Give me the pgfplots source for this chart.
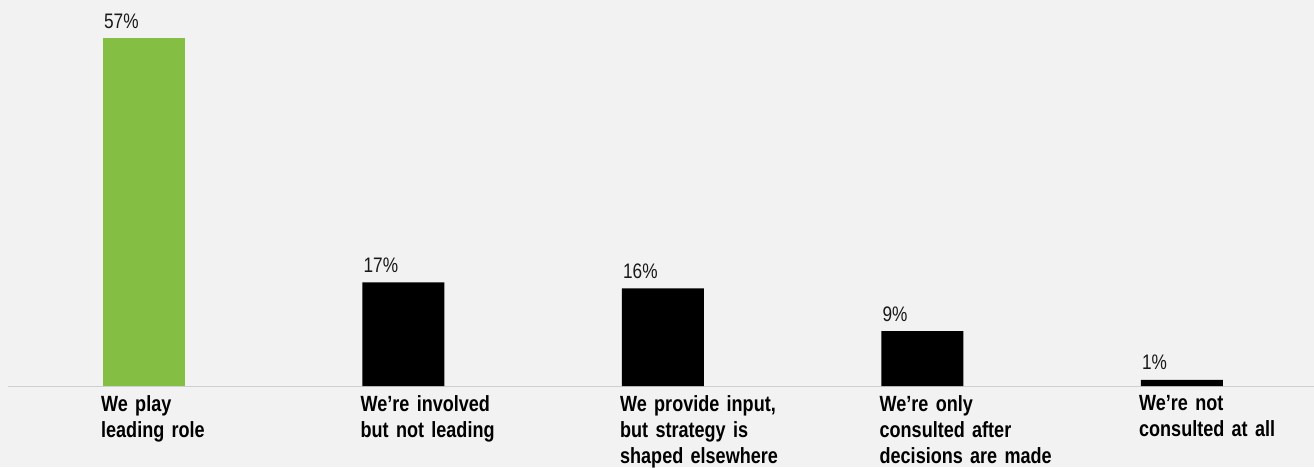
\documentclass[border=0pt]{standalone}
\usepackage{pgfplots}
\pgfplotsset{compat=1.18}
\usepackage{fontspec}
\setmainfont[FakeStretch=0.82]{Liberation Sans}
\usetikzlibrary{backgrounds}
\definecolor{bg}{HTML}{F1F2F1}
\definecolor{grn}{HTML}{84BF43}
\definecolor{axl}{HTML}{D0D0D0}
\begin{document}
\begin{tikzpicture}
\useasboundingbox (-8pt,-81pt) rectangle (1306pt,386pt);
\begin{axis}[
  at={(0,0)}, anchor=south west,
  width=1306pt, height=386pt, scale only axis,
  xmin=-0.524, xmax=4.509, ymin=0, ymax=63.3,
  axis x line=bottom, axis y line=none,
  x axis line style={axl, line width=1pt, -},
  ybar, bar width=82pt, bar shift=0pt,
  xtick={0,1,2,3,4},
  xticklabels={{We play\\leading role},{We’re involved\\but not leading},{We provide input,\\but strategy is\\shaped elsewhere},{We’re only\\consulted after\\decisions are made},{We’re not\\consulted at all}},
  major tick length=0pt,
  xticklabel style={anchor=north west, xshift=-43pt, yshift=-9pt, inner sep=0pt, align=left, text width=220pt, font=\fontsize{22}{26}\selectfont\bfseries, text=black},
  /pgf/number format/assume math mode=true,
  nodes near coords={\pgfmathprintnumber{\pgfplotspointmeta}\%},
  every node near coord/.append style={anchor=base west, xshift=-40pt, yshift=10pt, inner sep=0pt, font=\fontsize{21}{24}\selectfont, text=black!90},
  clip=false,
]
\addplot[fill=grn, draw=none] coordinates {(0,57)};
\addplot[fill=black, draw=none] coordinates {(1,17) (2,16) (3,9) (4,1)};
\end{axis}
\begin{scope}[on background layer]
\fill[bg] (-8pt,-81pt) rectangle (1306pt,386pt);
\end{scope}
\end{tikzpicture}
\end{document}
